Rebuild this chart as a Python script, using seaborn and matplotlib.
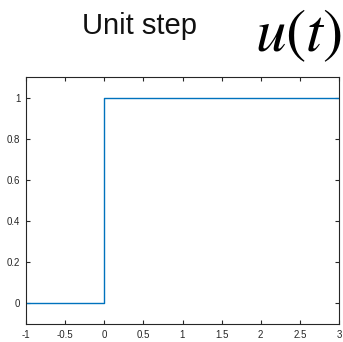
import matplotlib
matplotlib.use("Agg")
import matplotlib.pyplot as plt
import seaborn as sns
import pandas as pd

# Unit step u(t): zero for t < 0, one for t >= 0
t = [-1, 0, 0, 3]
u = [0, 0, 1, 1]
x_ticks = [-1, -0.5, 0, 0.5, 1, 1.5, 2, 2.5, 3]
x_tick_labels = ["-1", "-0.5", "0", "0.5", "1", "1.5", "2", "2.5", "3"]
y_ticks = [0, 0.2, 0.4, 0.6, 0.8, 1]
y_tick_labels = ["0", "0.2", "0.4", "0.6", "0.8", "1"]

sns.set_style("white")
plt.rcParams["font.family"] = ["Liberation Sans", "DejaVu Sans"]
plt.rcParams["mathtext.fontset"] = "stix"

fig = plt.figure(figsize=(3.43, 3.42), dpi=100)
ax = fig.add_axes([26 / 343, 1 - 324 / 342, 313 / 343, 247 / 342])

df = pd.DataFrame({"t": t, "u": u})
sns.lineplot(data=df, x="t", y="u", sort=False, estimator=None,
             color="#0072BD", linewidth=1.0, ax=ax)

ax.set_xlim(-1, 3)
ax.set_ylim(-0.1, 1.1)
ax.set_xticks(x_ticks)
ax.set_xticklabels(x_tick_labels)
ax.set_yticks(y_ticks)
ax.set_yticklabels(y_tick_labels)
ax.set_xlabel("")
ax.set_ylabel("")
ax.tick_params(direction="in", length=3, width=0.8, labelsize=7,
               labelcolor="#262626", color="#262626",
               top=True, right=True, bottom=True, left=True, pad=4)
for s in ax.spines.values():
    s.set_visible(True)
    s.set_color("#262626")
    s.set_linewidth(0.8)

fig.text(140 / 343, 1 - 26 / 342, "Unit step", fontsize=21,
         ha="center", va="center", color="#111111")
fig.text(342 / 343, 1 - 36 / 342, r"$u(t)$", fontsize=44,
         ha="right", va="center", color="black")

fig.savefig("out.png", dpi=100)
